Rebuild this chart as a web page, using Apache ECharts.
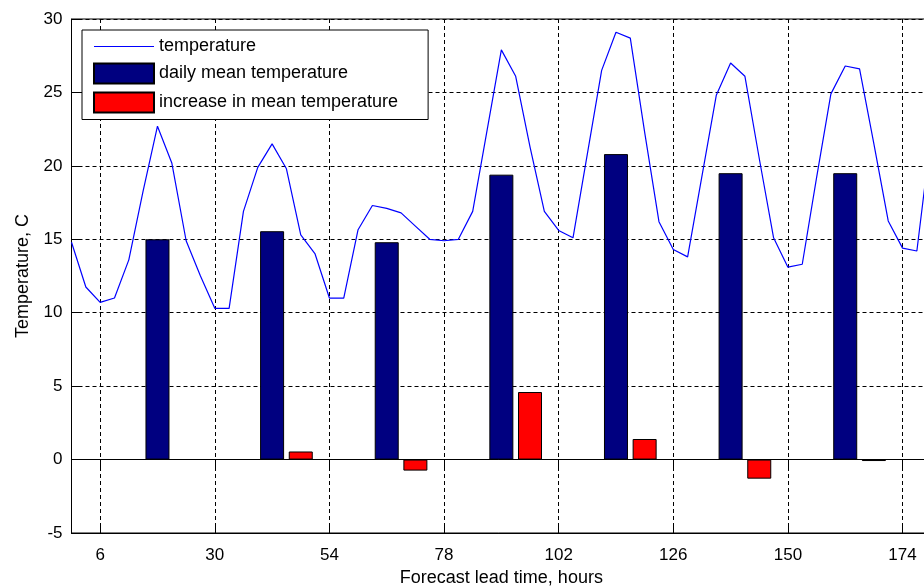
<!DOCTYPE html>
<html>
<head>
<meta charset="utf-8">
<script src="https://cdn.jsdelivr.net/npm/echarts@6/dist/echarts.min.js"></script>
<style>
html,body{margin:0;padding:0;background:#fff;}
#chart{width:924px;height:586px;}
</style>
</head>
<body>
<div id="chart"></div>
<script>
// Hourly forecast times (hours) and temperatures (C)
var hours = [0,3,6,9,12,15,18,21,24,27,30,33,36,39,42,45,48,51,54,57,60,63,66,69,72,75,78,81,84,87,90,93,96,99,102,105,108,111,114,117,120,123,126,129,132,135,138,141,144,147,150,153,156,159,162,165,168,171,174,177,180];
var temperature = [14.8,11.75,10.7,11.0,13.6,18.3,22.7,20.2,14.9,12.5,10.3,10.3,16.9,19.9,21.5,19.8,15.3,14.0,11.0,11.0,15.65,17.3,17.1,16.8,15.9,15.0,14.9,15.0,16.9,22.4,27.9,26.1,21.3,16.9,15.6,15.1,20.8,26.5,29.1,28.7,22.3,16.2,14.3,13.8,19.3,24.8,27.0,26.1,20.5,15.1,13.1,13.3,19.2,24.9,26.8,26.6,21.5,16.25,14.4,14.2,22.2];

// Daily mean temperature
var meanHours = [18,42,66,90,114,138,162];
var meanTemp = [15.0,15.55,14.8,19.4,20.8,19.5,19.5];

// Increase in mean temperature
var incHours = [48,72,96,120,144,168];
var incTemp = [0.55,-0.75,4.6,1.4,-1.3,-0.1];

// Axis ticks
var xTicks = [6,30,54,78,102,126,150,174];

function pairs(xs, ys){ return xs.map(function(x,i){ return [x, ys[i]]; }); }

var chart = echarts.init(document.getElementById('chart'), null, {renderer:'canvas'});
var fontFam = '"Liberation Sans", Arial, sans-serif';

chart.setOption({
  animation:false,
  backgroundColor:'#fff',
  grid:{left:71.5, top:19, width:859.7, height:514, outerBoundsMode:'none', containLabel:false,
        show:true, borderColor:'#000', borderWidth:1, backgroundColor:'transparent'},
  legend:{
    orient:'vertical', left:82, top:30,
    padding:[7.5,30,6,11], itemGap:7, itemWidth:60, itemHeight:20,
    backgroundColor:'#fff', borderColor:'#000', borderWidth:1, borderRadius:0,
    textStyle:{fontFamily:fontFam, fontSize:18, color:'#000'},
    selectedMode:false, symbolKeepAspect:true,
    data:[
      {name:'temperature', icon:'path://M0,0L60,0L60,1.2L0,1.2Z', itemStyle:{color:'#0000ff', borderWidth:0}},
      {name:'daily mean temperature', icon:'rect'},
      {name:'increase in mean temperature', icon:'rect'}
    ],
    z:20
  },
  xAxis:[{
    type:'value', min:0, max:180, position:'bottom',
    name:'Forecast lead time, hours', nameLocation:'middle', nameGap:36,
    nameTextStyle:{fontFamily:fontFam, fontSize:18, color:'#000'},
    axisLine:{show:true, onZero:false, lineStyle:{color:'#000', width:1}},
    axisTick:{show:true, inside:true, length:9, customValues:xTicks, lineStyle:{color:'#000'}},
    axisLabel:{show:true, customValues:xTicks, margin:14, fontFamily:fontFam, fontSize:17, color:'#000'},
    splitLine:{show:true, lineStyle:{color:'#000', type:[4,3], width:1}}
  },{
    type:'value', min:0, max:180, position:'top',
    axisLine:{show:false},
    axisTick:{show:true, inside:true, length:9, customValues:xTicks, lineStyle:{color:'#000'}},
    axisLabel:{show:false},
    splitLine:{show:false}
  }],
  yAxis:[{
    type:'value', min:-5, max:30, interval:5,
    name:'Temperature, C', nameLocation:'middle', nameGap:39,
    nameTextStyle:{fontFamily:fontFam, fontSize:18, color:'#000'},
    axisLine:{show:true, onZero:false, lineStyle:{color:'#000', width:1}},
    axisTick:{show:true, inside:true, length:9, lineStyle:{color:'#000'}},
    axisLabel:{margin:9, fontFamily:fontFam, fontSize:17, color:'#000'},
    splitLine:{show:true, lineStyle:{color:'#000', type:[4,3], width:1}}
  }],
  series:[
    {
      name:'daily mean temperature', type:'bar', xAxisIndex:0, yAxisIndex:0,
      data:pairs(meanHours, meanTemp), barWidth:24, barGap:'-100%',
      itemStyle:{color:'#000080', borderColor:'#000', borderWidth:1}, z:2
    },
    {
      name:'increase in mean temperature', type:'bar', xAxisIndex:0, yAxisIndex:0,
      data:pairs(incHours, incTemp), barWidth:24, barGap:'-100%',
      itemStyle:{color:'#ff0000', borderColor:'#000', borderWidth:1}, z:2,
      markLine:{silent:true, symbol:['none','none'], label:{show:false},
        lineStyle:{color:'#000', type:'solid', width:1}, data:[{yAxis:0}], animation:false}
    },
    {
      name:'temperature', type:'line', xAxisIndex:0, yAxisIndex:0,
      data:pairs(hours, temperature), symbol:'none', showSymbol:false,
      lineStyle:{color:'#0000ff', width:1.2}, itemStyle:{color:'#0000ff'}, z:3
    }
  ]
});
</script>
</body>
</html>
